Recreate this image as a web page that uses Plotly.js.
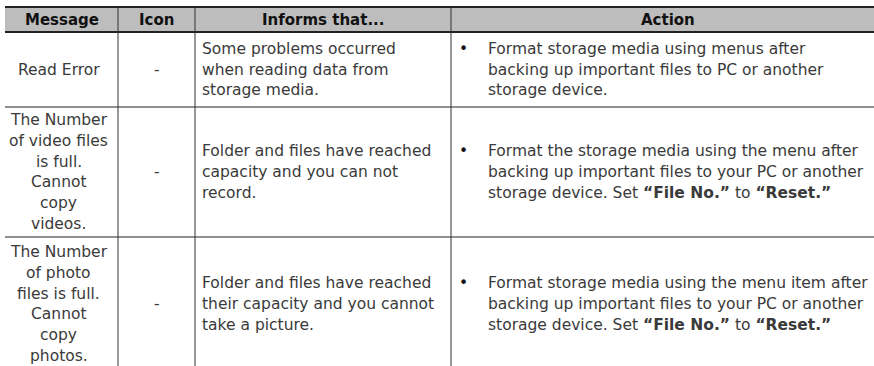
<!DOCTYPE html>
<html>
<head>
<meta charset="utf-8">
<script src="https://cdn.plot.ly/plotly-3.0.1.min.js"></script>
<style>html,body{margin:0;padding:0;background:#fff;}#chart{width:874px;height:366px;}</style>
</head>
<body>
<div id="chart"></div>
<script>
// ---- table content ----
const headers = ['Message', 'Icon', 'Informs that...', 'Action'];
const messages = [
  'Read Error',
  'The Number<br>of video files<br>is full.<br>Cannot<br>copy<br>videos.',
  'The Number<br>of photo<br>files is full.<br>Cannot<br>copy<br>photos.'
];
const icons = ['-', '-', '-'];
const informs = [
  'Some problems occurred<br>when reading data from<br>storage media.',
  'Folder and files have reached<br>capacity and you can not<br>record.',
  'Folder and files have reached<br>their capacity and you cannot<br>take a picture.'
];
const actions = [
  'Format storage media using menus after<br>backing up important files to PC or another<br>storage device.',
  'Format the storage media using the menu after<br>backing up important files to your PC or another<br>storage device. Set <b>\u201CFile No.\u201D</b> to <b>\u201CReset.\u201D</b>',
  'Format storage media using the menu item after<br>backing up important files to your PC or another<br>storage device. Set <b>\u201CFile No.\u201D</b> to <b>\u201CReset.\u201D</b>'
];
const bullet = '\u2022';

// ---- layout (pixel grid) ----
const W = 874, H = 366;
const colEdges = [5, 118, 195, 451, 885];
const rowEdges = [7, 32, 107, 237, 371];
const lineH = 20.8;
const bodyFont = {family: 'DejaVu Sans, Liberation Sans, sans-serif', size: 15.5, color: '#3a3a3a'};
const headFont = {family: 'DejaVu Sans, Liberation Sans, sans-serif', size: 15, color: '#111', weight: 'bold'};

const shapes = [];
const annotations = [];

// header band
shapes.push({type: 'rect', xref: 'x', yref: 'y', x0: colEdges[0], x1: colEdges[4], y0: rowEdges[0], y1: rowEdges[1],
  fillcolor: '#bdbdbd', line: {width: 0}, layer: 'below'});

// horizontal lines
rowEdges.forEach((y, i) => {
  const thick = (i === 0 || i === 1);
  shapes.push({type: 'line', xref: 'x', yref: 'y', x0: colEdges[0], x1: colEdges[4], y0: y, y1: y,
    line: {color: '#222', width: thick ? 2 : 1}});
});
// vertical inner lines
colEdges.slice(1, 4).forEach(x => {
  shapes.push({type: 'line', xref: 'x', yref: 'y', x0: x, x1: x, y0: rowEdges[0], y1: rowEdges[4],
    line: {color: '#333', width: 1}});
});

function addLines(text, x, rowIdx, anchor, font) {
  const lines = text.split('<br>');
  const yc = (rowEdges[rowIdx] + rowEdges[rowIdx + 1]) / 2;
  const y0 = yc - (lines.length - 1) * lineH / 2;
  lines.forEach((ln, k) => {
    annotations.push({xref: 'x', yref: 'y', x: x, y: y0 + k * lineH, text: ln, showarrow: false,
      xanchor: anchor, yanchor: 'middle', align: anchor, font: font});
  });
}

// header texts
headers.forEach((h, c) => {
  addLines(h, (colEdges[c] + colEdges[c + 1]) / 2, 0, 'center', headFont);
});

// body cells
const bodyRows = messages.length;
for (let r = 0; r < bodyRows; r++) {
  const ri = r + 1;
  addLines(messages[r], (colEdges[0] + colEdges[1]) / 2 - 3, ri, 'center', bodyFont);
  addLines(icons[r], (colEdges[1] + colEdges[2]) / 2, ri, 'center', bodyFont);
  addLines(informs[r], colEdges[2] + 5, ri, 'left', bodyFont);
  const nLines = actions[r].split('<br>').length;
  const yc = (rowEdges[ri] + rowEdges[ri + 1]) / 2;
  annotations.push({xref: 'x', yref: 'y', x: colEdges[3] + 12, y: yc - (nLines - 1) * lineH / 2, text: bullet,
    showarrow: false, xanchor: 'center', yanchor: 'middle', font: Object.assign({}, bodyFont, {color: '#111'})});
  addLines(actions[r], colEdges[3] + 35, ri, 'left', bodyFont);
}

const layout = {
  width: W, height: H,
  margin: {l: 0, r: 0, t: 0, b: 0},
  paper_bgcolor: '#fff', plot_bgcolor: '#fff',
  showlegend: false,
  xaxis: {range: [0, W], visible: false, fixedrange: true},
  yaxis: {range: [H, 0], visible: false, fixedrange: true},
  shapes: shapes,
  annotations: annotations
};

Plotly.newPlot('chart', [{x: [], y: [], type: 'scatter', hoverinfo: 'skip'}], layout, {staticPlot: true, displayModeBar: false});
</script>
</body>
</html>
